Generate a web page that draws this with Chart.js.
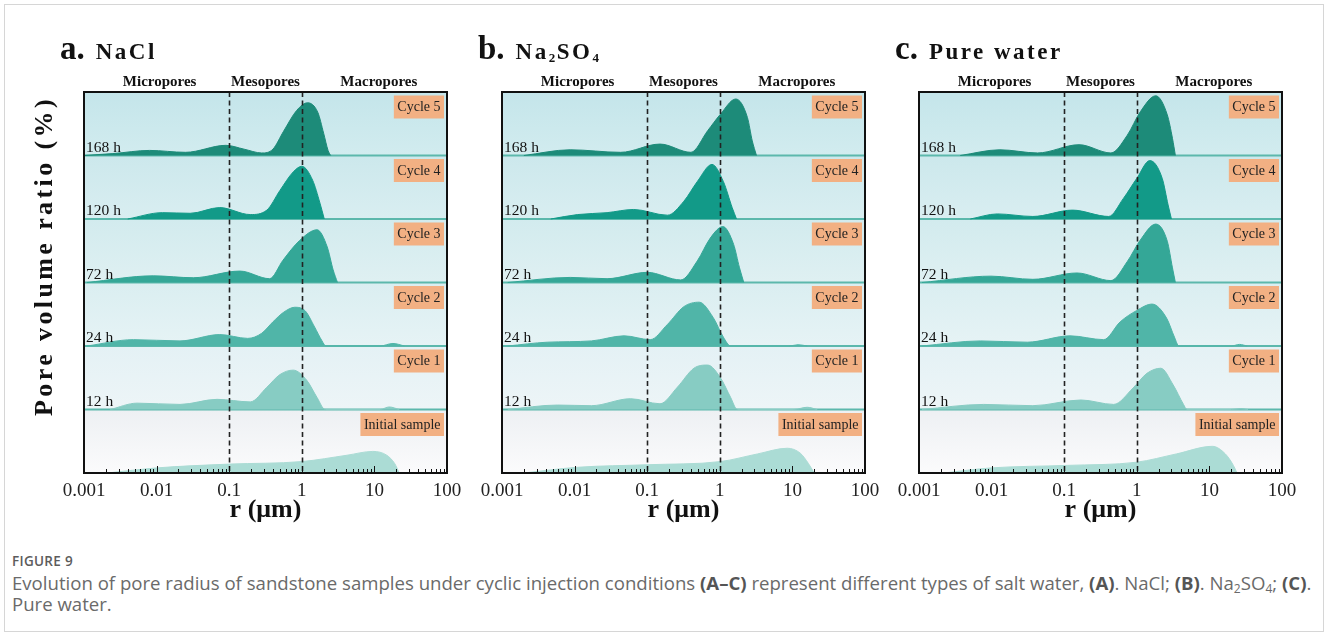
<!DOCTYPE html>
<html>
<head>
<meta charset="utf-8">
<script src="https://cdn.jsdelivr.net/npm/chart.js@4.4.1/dist/chart.umd.min.js"></script>
<style>
  body { margin: 0; background: #fff; width: 1328px; height: 643px; overflow: hidden; position: relative; }
  #frame { position: absolute; left: 4px; top: 4px; width: 1318px; height: 626px; border: 1px solid #d6d6d6; }
  canvas { position: absolute; top: 30px; }
  #cap { position: absolute; left: 12px; top: 552px; font-family: "Open Sans", sans-serif; color: #6a6a6a; }
  #cap .fig { font-size: 13.5px; font-weight: 600; color: #5c5c5c; letter-spacing: 0.3px; }
  #cap .txt { font-size: 18.6px; line-height: 21px; margin-top: 2px; white-space: nowrap; }
  #cap b { color: #555; font-weight: 700; }
  #cap sub { font-size: 12px; vertical-align: -3px; line-height: 0; }
</style>
</head>
<body>
<div id="frame"></div>
<canvas id="pa" width="487" height="520" style="left:0px"></canvas>
<canvas id="pb" width="487" height="520" style="left:418px"></canvas>
<canvas id="pc" width="487" height="520" style="left:835px"></canvas>
<div id="cap">
  <div class="fig">FIGURE 9</div>
  <div class="txt">Evolution of pore radius of sandstone samples under cyclic injection conditions <b>(A–C)</b> represent different types of salt water, <b>(A)</b>. NaCl; <b>(B)</b>. Na<sub>2</sub>SO<sub>4</sub>; <b>(C)</b>.<br>Pure water.</div>
</div>
<script>
// rows from bottom (initial sample) to top (cycle 5)
const cycleLabels = ['Initial sample', 'Cycle 1', 'Cycle 2', 'Cycle 3', 'Cycle 4', 'Cycle 5'];
const hourLabels = ['', '12 h', '24 h', '72 h', '120 h', '168 h'];
const zoneLabels = ['Micropores', 'Mesopores', 'Macropores'];
const zoneCenters = [0.011, 0.316, 11.5];
const boundaries = [0.1, 1];
const decades = [0.001, 0.01, 0.1, 1, 10, 100];

// [r (µm), relative pore volume ratio], row height = 1
const nacl0 = [[0.0021, 0], [0.01, 0.08], [0.1, 0.14], [1, 0.18], [4.2, 0.28], [9.5, 0.34], [14.8, 0.28], [19, 0.15], [22, 0]];
const nacl1 = [[0.0023, 0], [0.0054, 0.1], [0.021, 0.08], [0.068, 0.16], [0.195, 0.12], [0.33, 0.35], [0.5, 0.55], [0.76, 0.62], [1.17, 0.46], [1.62, 0.19], [2.1, 0], [12, 0], [16, 0.04], [22, 0]];
const nacl2 = [[0.0011, 0], [0.0048, 0.1], [0.021, 0.08], [0.074, 0.18], [0.18, 0.12], [0.28, 0.2], [0.4, 0.38], [0.56, 0.53], [0.8, 0.61], [1.12, 0.55], [1.5, 0.3], [1.9, 0.08], [2.15, 0], [12, 0], [18, 0.04], [26, 0]];
const nacl3 = [[0.0011, 0], [0.009, 0.105], [0.032, 0.075], [0.14, 0.18], [0.36, 0.06], [0.55, 0.35], [0.93, 0.66], [1.62, 0.83], [2.24, 0.56], [2.7, 0.2], [3.1, 0]];
const nacl4 = [[0.004, 0], [0.012, 0.1], [0.029, 0.09], [0.074, 0.18], [0.195, 0.07], [0.33, 0.14], [0.5, 0.45], [0.76, 0.74], [1.0, 0.83], [1.41, 0.61], [1.78, 0.25], [2.04, 0]];
const nacl5 = [[0.001, 0], [0.0025, 0.03], [0.008, 0.08], [0.025, 0.05], [0.09, 0.16], [0.16, 0.1], [0.28, 0.04], [0.4, 0.1], [0.56, 0.38], [0.85, 0.71], [1.2, 0.83], [1.66, 0.68], [2.0, 0.35], [2.3, 0.08], [2.5, 0]];

const sulf0 = [[0.002, 0], [0.011, 0.09], [0.1, 0.13], [1.02, 0.18], [3.3, 0.3], [8.5, 0.39], [12.9, 0.31], [16.6, 0.15], [20, 0]];
const sulf1 = [[0.0012, 0], [0.0058, 0.07], [0.017, 0.06], [0.059, 0.17], [0.15, 0.09], [0.26, 0.35], [0.44, 0.65], [0.68, 0.7], [1.02, 0.5], [1.41, 0.19], [1.74, 0], [10.5, 0], [16, 0.035], [22, 0]];
const sulf2 = [[0.0012, 0], [0.0042, 0.06], [0.017, 0.08], [0.048, 0.16], [0.11, 0.1], [0.19, 0.34], [0.32, 0.62], [0.52, 0.69], [0.81, 0.45], [1.12, 0.14], [1.41, 0], [9, 0], [12, 0.02], [16, 0]];
const sulf3 = [[0.0012, 0], [0.0087, 0.08], [0.028, 0.06], [0.1, 0.16], [0.29, 0.04], [0.49, 0.34], [0.74, 0.7], [1.1, 0.88], [1.55, 0.6], [1.86, 0.24], [2.14, 0]];
const sulf4 = [[0.0047, 0], [0.011, 0.07], [0.028, 0.1], [0.065, 0.15], [0.19, 0.06], [0.32, 0.28], [0.49, 0.59], [0.78, 0.86], [1.12, 0.59], [1.48, 0.18], [1.7, 0]];
const sulf5 = [[0.002, 0], [0.0087, 0.09], [0.043, 0.05], [0.15, 0.18], [0.4, 0.05], [0.68, 0.39], [1.02, 0.65], [1.66, 0.89], [2.4, 0.6], [2.8, 0.23], [3.2, 0]];

const pure0 = [[0.0022, 0], [0.0098, 0.08], [0.11, 0.12], [1.0, 0.17], [3.5, 0.3], [11, 0.42], [16.6, 0.3], [21.4, 0.12], [24, 0]];
const pure1 = [[0.0011, 0], [0.0078, 0.08], [0.037, 0.06], [0.17, 0.15], [0.48, 0.08], [0.89, 0.34], [1.38, 0.57], [2.14, 0.65], [3.16, 0.39], [4.4, 0.08], [4.9, 0], [20, 0], [27, 0.015], [34, 0]];
const pure2 = [[0.0011, 0], [0.007, 0.08], [0.031, 0.06], [0.12, 0.16], [0.35, 0.1], [0.59, 0.38], [1.0, 0.56], [1.62, 0.66], [2.57, 0.44], [3.3, 0.14], [3.8, 0], [20, 0], [26, 0.025], [33, 0]];
const pure3 = [[0.0011, 0], [0.0098, 0.1], [0.037, 0.05], [0.15, 0.15], [0.44, 0.03], [0.74, 0.33], [1.12, 0.67], [1.82, 0.92], [2.63, 0.65], [3.1, 0.23], [3.4, 0]];
const pure4 = [[0.0051, 0], [0.012, 0.08], [0.037, 0.04], [0.13, 0.14], [0.41, 0.04], [0.65, 0.32], [1.0, 0.64], [1.51, 0.92], [2.24, 0.64], [2.7, 0.22], [3.0, 0]];
const pure5 = [[0.0037, 0], [0.013, 0.09], [0.043, 0.04], [0.16, 0.17], [0.44, 0.04], [0.74, 0.32], [1.12, 0.69], [1.82, 0.94], [2.63, 0.64], [3.1, 0.27], [3.4, 0]];

const fillColors = ['#abdcd5', '#87ccc3', '#50b5a8', '#34a797', '#129a88', '#1d8b79'];
const rowTop = ['#edf0f3', '#e4f1f5', '#daeef1', '#d2ebee', '#cce8ec', '#c4e5ea'];
const rowBottom = ['#fbfbfc', '#edf5f7', '#e6f3f5', '#dff0f2', '#d9eef1', '#d2ecef'];

const serif = '"Liberation Serif", "Times New Roman", serif';

const ridge = {
  id: 'ridge',
  beforeDatasetsDraw(chart) {
    const { ctx, chartArea: a, scales: { y } } = chart;
    ctx.save();
    for (let i = 0; i < 6; i++) {
      const yb = y.getPixelForValue(i), yt = y.getPixelForValue(i + 1);
      const g = ctx.createLinearGradient(0, yt, 0, yb);
      g.addColorStop(0, rowTop[i]);
      g.addColorStop(1, rowBottom[i]);
      ctx.fillStyle = g;
      ctx.fillRect(a.left, yt, a.width, yb - yt);
    }
    ctx.strokeStyle = '#5cb8ac';
    ctx.lineWidth = 2;
    for (let i = 1; i < 6; i++) {
      const yy = y.getPixelForValue(i);
      ctx.beginPath(); ctx.moveTo(a.left, yy); ctx.lineTo(a.right, yy); ctx.stroke();
    }
    ctx.restore();
  },
  afterDatasetsDraw(chart, args, o) {
    const { ctx, chartArea: a, scales: { x, y } } = chart;
    ctx.save();

    // pore class boundaries
    ctx.strokeStyle = '#222';
    ctx.lineWidth = 1.6;
    ctx.setLineDash([5, 3.5]);
    boundaries.forEach(v => {
      const px = Math.round(x.getPixelForValue(v)) + 0.5;
      ctx.beginPath(); ctx.moveTo(px, a.top); ctx.lineTo(px, a.bottom); ctx.stroke();
    });
    ctx.setLineDash([]);

    // inward ticks
    ctx.strokeStyle = '#111';
    ctx.lineWidth = 1;
    x.ticks.forEach(t => {
      const px = Math.round(x.getPixelForValue(t.value)) + 0.5;
      const len = decades.includes(t.value) ? 7 : 4;
      ctx.beginPath(); ctx.moveTo(px, a.bottom); ctx.lineTo(px, a.bottom - len); ctx.stroke();
    });

    // frame
    ctx.strokeStyle = '#111';
    ctx.lineWidth = 2;
    ctx.strokeRect(a.left, a.top, a.width, a.height);

    // row labels
    ctx.fillStyle = '#111';
    ctx.textBaseline = 'alphabetic';
    ctx.textAlign = 'left';
    ctx.font = '15.5px ' + serif;
    for (let i = 1; i < 6; i++) ctx.fillText(hourLabels[i], a.left + 2, y.getPixelForValue(i) - 4);

    ctx.font = '14px ' + serif;
    ctx.textAlign = 'center';
    ctx.textBaseline = 'middle';
    for (let i = 0; i < 6; i++) {
      const w = ctx.measureText(cycleLabels[i]).width + 7;
      const bx = a.right - 3 - w, by = y.getPixelForValue(i + 1) + 3.5;
      ctx.fillStyle = '#f2b083';
      ctx.fillRect(bx, by, w, 23);
      ctx.fillStyle = '#222';
      ctx.fillText(cycleLabels[i], bx + w / 2, by + 12);
    }

    // pore class names
    ctx.fillStyle = '#111';
    ctx.font = 'bold 15px ' + serif;
    zoneLabels.forEach((t, i) => ctx.fillText(t, x.getPixelForValue(zoneCenters[i]), a.top - 10));

    // axis title
    ctx.font = 'bold 26px ' + serif;
    ctx.fillText('r (μm)', (a.left + a.right) / 2, a.bottom + 37);

    // panel title
    ctx.textAlign = 'left';
    ctx.textBaseline = 'alphabetic';
    ctx.font = 'bold 33px ' + serif;
    const lx = a.left - 24;
    ctx.fillText(o.letter, lx, 29);
    let nx = lx + ctx.measureText(o.letter).width + 11;
    o.name.forEach(([t, sub]) => {
      ctx.font = sub ? 'bold 13px ' + serif : 'bold 23px ' + serif;
      ctx.letterSpacing = sub ? '0px' : '2.5px';
      ctx.fillText(t, nx, sub ? 32 : 29);
      nx += ctx.measureText(t).width + (sub ? 1.5 : 0);
    });
    ctx.letterSpacing = '0px';

    if (o.yTitle) {
      ctx.translate(45, 226);
      ctx.rotate(-Math.PI / 2);
      ctx.textAlign = 'center';
      ctx.textBaseline = 'middle';
      ctx.font = 'bold 26px ' + serif;
      ctx.letterSpacing = '3.4px';
      ctx.fillText('Pore volume ratio (%)', 0, 0);
    }
    ctx.restore();
  }
};

function makeChart(id, rows, title) {
  return new Chart(document.getElementById(id), {
    type: 'line',
    data: {
      datasets: rows.map((pts, i) => ({
        data: pts.map(([r, h]) => ({ x: r, y: i + h })),
        fill: { value: i },
        backgroundColor: fillColors[i],
        borderColor: fillColors[i],
        borderWidth: 1,
        pointRadius: 0,
        cubicInterpolationMode: 'monotone'
      }))
    },
    options: {
      responsive: false,
      animation: false,
      events: [],
      layout: { padding: { left: 84, right: 40, top: 62, bottom: 0 } },
      plugins: { legend: { display: false }, tooltip: { enabled: false }, ridge: title },
      scales: {
        x: {
          type: 'logarithmic',
          min: 0.001,
          max: 100,
          grid: { display: false, drawTicks: false },
          border: { display: false },
          afterBuildTicks(s) {
            const t = [];
            for (let e = -3; e <= 2; e++) {
              for (let m = 1; m <= 9; m++) {
                const v = +(m * Math.pow(10, e)).toPrecision(3);
                if (v <= 100) t.push({ value: v });
              }
            }
            s.ticks = t;
          },
          afterFit(s) { s.height = 77; },
          ticks: {
            autoSkip: false,
            maxRotation: 0,
            padding: 7,
            color: '#222',
            font: { family: serif, size: 19 },
            callback: v => decades.includes(v) ? String(v) : ''
          }
        },
        y: { type: 'linear', min: 0, max: 6, display: false }
      }
    },
    plugins: [ridge]
  });
}

makeChart('pa', [nacl0, nacl1, nacl2, nacl3, nacl4, nacl5], { letter: 'a.', name: [['NaCl', 0]], yTitle: true });
makeChart('pb', [sulf0, sulf1, sulf2, sulf3, sulf4, sulf5], { letter: 'b.', name: [['Na', 0], ['2', 1], ['SO', 0], ['4', 1]] });
makeChart('pc', [pure0, pure1, pure2, pure3, pure4, pure5], { letter: 'c.', name: [['Pure water', 0]] });
</script>
</body>
</html>
